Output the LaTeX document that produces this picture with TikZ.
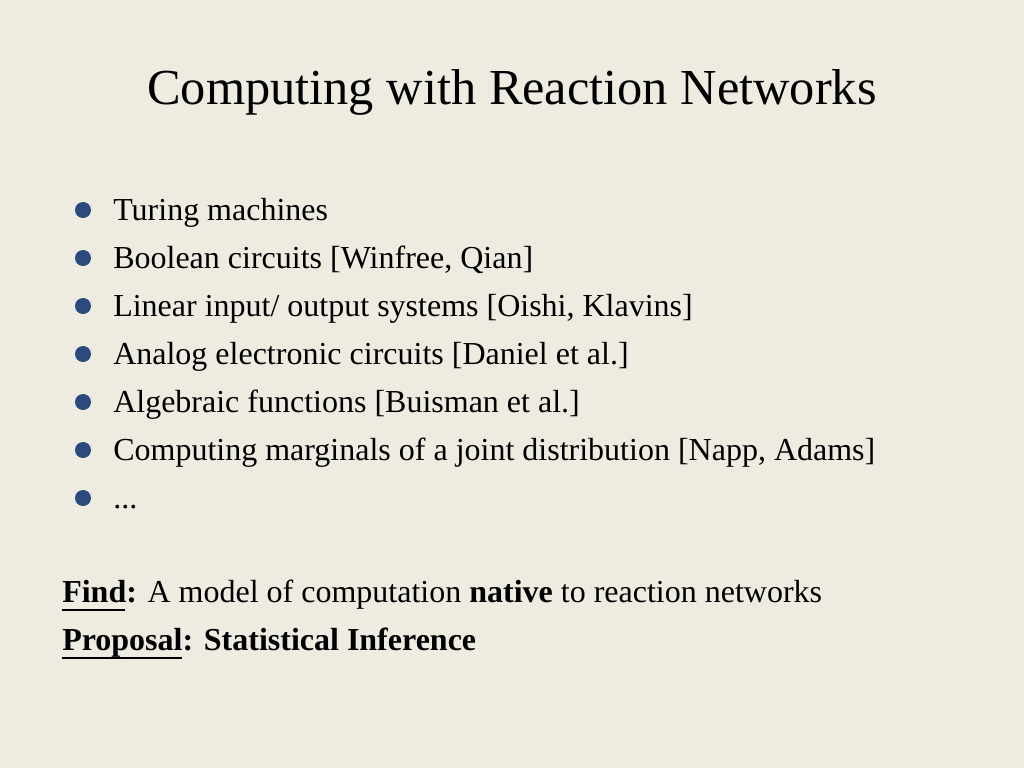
\documentclass[tikz,border=0pt]{standalone}
\usepackage{fontspec}
\setmainfont{Liberation Serif}
\definecolor{slidebg}{HTML}{EEEBE1}
\definecolor{bulletblue}{HTML}{2A4B7C}
\tikzset{
	item/.style={anchor=base west, inner sep=0pt, font=\fontsize{24}{28}\selectfont},
	dot/.style={circle, fill=bulletblue, inner sep=0pt, minimum size=12pt},
}
\begin{document}
\begin{tikzpicture}[x=0.75pt, y=-0.75pt]
	\fill[slidebg] (0,0) rectangle (1024,768);
	\useasboundingbox (0,0) rectangle (1024,768);

	\node[anchor=base, inner sep=0pt, font=\fontsize{37.8}{42}\selectfont] (title) at (512,104) {Computing with Reaction Networks};

	\foreach \t [count=\i] in {Turing machines, Boolean circuits [Winfree{,} Qian], Linear input/ output systems [Oishi{,} Klavins], Analog electronic circuits [Daniel et al.], Algebraic functions [Buisman et al.], Computing marginals of a joint distribution [Napp{,} Adams]}{
		\node[dot] (d\i) at (83,{162+48*\i}) {};
		\node[item] (b\i) at (113,{172+48*\i}) {\t};
	}
	\node[dot] (d7) at (83,498) {};
	\node[item] (b7) at (113,508) {.\kern0pt.\kern0pt.};

	\node[item] (find) at (62,602) {\textbf{Find:} A model of computation \textbf{native} to reaction networks};
	\node[item] (prop) at (62,650) {\textbf{Proposal: Statistical Inference}};
	% underlines
	\draw[line width=1.2pt] (62,610) -- (125,610);
	\draw[line width=1.2pt] (62,658) -- (182,658);
\end{tikzpicture}
\end{document}
